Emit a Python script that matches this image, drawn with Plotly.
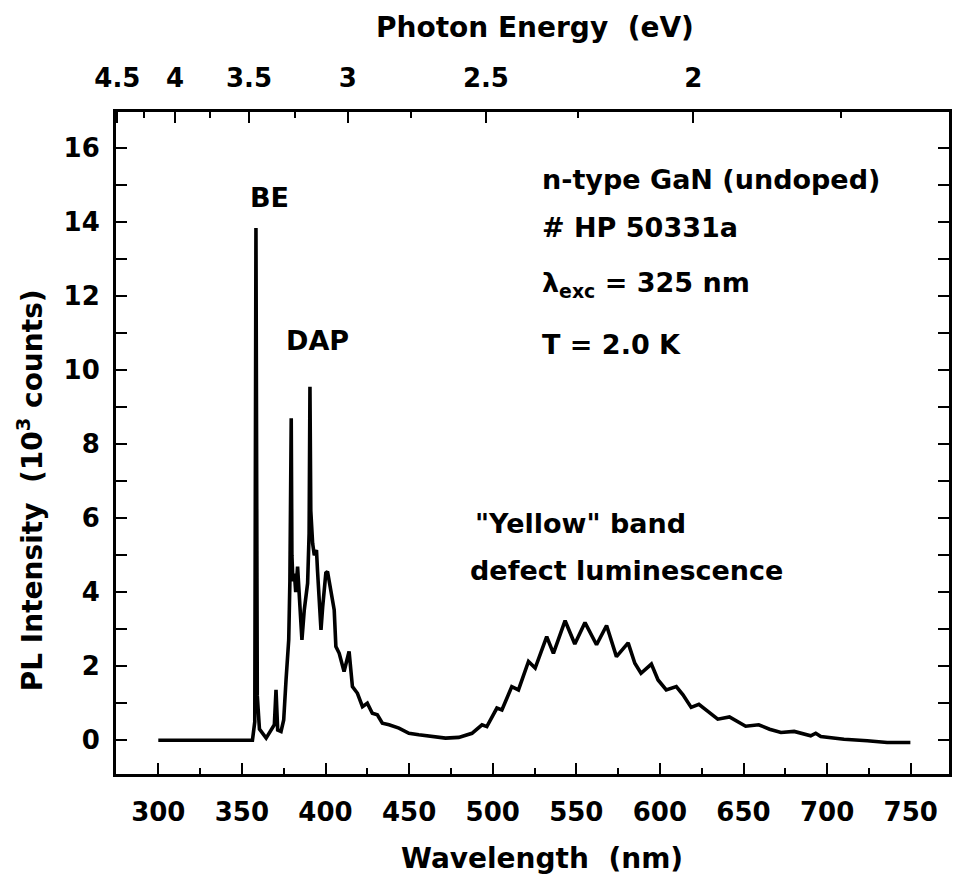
import plotly.graph_objects as go

# Photoluminescence spectrum of undoped n-type GaN at 2.0 K
wavelength_nm = [
    300.0, 356.3, 357.7, 358.4, 359.2, 360.5, 364.5, 367.5, 369.4, 370.4,
    371.4, 373.4, 375.0, 376.4, 378.0, 378.7, 379.1, 379.5, 379.9, 380.5,
    381.4, 382.2, 383.3, 384.3, 385.3, 385.9, 387.3, 389.3, 390.2, 390.7,
    391.2, 392.3, 393.3, 394.6, 395.2, 396.3, 397.3, 398.3, 399.2, 400.2,
    401.2, 402.2, 403.2, 405.2, 406.2, 408.2, 411.1, 412.6, 414.1, 416.1,
    419.1, 422.1, 425.0, 428.0, 431.0, 434.0, 438.0, 443.9, 449.9, 455.8,
    463.8, 471.8, 479.7, 487.6, 493.6, 496.5, 502.5, 505.5, 511.4, 515.4,
    521.4, 525.4, 532.3, 536.3, 543.3, 549.1, 555.2, 562.1, 568.1, 574.0,
    581.0, 585.0, 588.7, 594.9, 598.9, 603.8, 609.8, 613.8, 618.7, 623.3,
    628.7, 634.6, 641.6, 651.3, 659.1, 665.6, 672.4, 680.3, 690.2, 693.2,
    696.2, 710.1, 724.0, 735.9, 749.8,
]
intensity_kcounts = [
    0.0, 0.0, 0.5, 13.84, 1.2, 0.3, 0.06, 0.28, 0.42, 1.36,
    0.28, 0.24, 0.55, 1.63, 2.71, 4.3, 5.8, 8.70, 5.0, 4.3,
    4.5, 4.0, 4.69, 3.8, 2.9, 2.71, 3.52, 4.24, 5.6, 9.55,
    6.2, 5.32, 5.0, 5.14, 4.6, 3.5, 2.98, 3.6, 3.97, 4.52,
    4.56, 4.3, 3.97, 3.52, 2.53, 2.35, 1.86, 2.1, 2.40, 1.45,
    1.27, 0.91, 1.0, 0.73, 0.69, 0.46, 0.42, 0.33, 0.19, 0.15,
    0.10, 0.06, 0.08, 0.19, 0.42, 0.37, 0.87, 0.82, 1.45, 1.36,
    2.13, 1.95, 2.80, 2.35, 3.23, 2.60, 3.18, 2.58, 3.10, 2.26,
    2.63, 2.08, 1.81, 2.06, 1.63, 1.36, 1.45, 1.23, 0.89, 0.97,
    0.78, 0.57, 0.63, 0.38, 0.42, 0.30, 0.21, 0.24, 0.12, 0.19,
    0.10, 0.03, -0.01, -0.06, -0.06,
]

# Axis ticks
wl_major = [300, 350, 400, 450, 500, 550, 600, 650, 700, 750]
wl_minor = [325, 375, 425, 475, 525, 575, 625, 675, 725]
y_major = [0, 2, 4, 6, 8, 10, 12, 14, 16]
y_minor = [1, 3, 5, 7, 9, 11, 13, 15]
energy_major = [4.5, 4.0, 3.5, 3.0, 2.5, 2.0]
energy_major_text = ["4.5", "4", "3.5", "3", "2.5", "2"]
energy_minor = [4.25, 3.75, 3.25, 2.75, 2.25, 1.75]

HC_EV_NM = 1239.84  # photon energy (eV) <-> wavelength (nm)
X_RANGE = [274.7, 772.9]
Y_RANGE = [-0.91, 16.97]

TICK_FONT = dict(family="DejaVu Sans", size=26, color="black", weight="bold")
TEXT_FONT = dict(family="DejaVu Sans", size=27, color="black", weight="bold")
TITLE_FONT = dict(family="DejaVu Sans", size=28, color="black", weight="bold")

fig = go.Figure()
fig.add_trace(go.Scatter(
    x=wavelength_nm, y=intensity_kcounts, mode="lines",
    line=dict(color="black", width=3.6), hoverinfo="skip", showlegend=False,
))
# carrier trace so the photon-energy axis is drawn
fig.add_trace(go.Scatter(
    x=[X_RANGE[0]], y=[None], xaxis="x2", mode="lines",
    showlegend=False, hoverinfo="skip",
))

axis_common = dict(
    showline=True, linecolor="black", linewidth=3, ticks="inside",
    tickcolor="black", tickwidth=2, showgrid=False, zeroline=False,
    tickfont=TICK_FONT,
)

fig.update_layout(
    width=955, height=881,
    margin=dict(l=116, r=3, t=112, b=107),
    paper_bgcolor="white", plot_bgcolor="white",
    showlegend=False,
    xaxis=dict(
        range=X_RANGE, tickmode="array", tickvals=wl_major, ticklen=11,
        minor=dict(tickmode="array", tickvals=wl_minor, ticklen=6,
                   tickwidth=2, tickcolor="black", ticks="inside"),
        ticklabelstandoff=13, **axis_common,
    ),
    xaxis2=dict(
        overlaying="x", side="top", anchor="y", range=X_RANGE,
        tickmode="array",
        tickvals=[HC_EV_NM / e for e in energy_major],
        ticktext=energy_major_text, ticklen=11,
        minor=dict(tickmode="array",
                   tickvals=[HC_EV_NM / e for e in energy_minor],
                   ticklen=6, tickwidth=2, tickcolor="black", ticks="inside"),
        ticklabelstandoff=12, **axis_common,
    ),
    yaxis=dict(
        range=Y_RANGE, tickmode="array", tickvals=y_major, ticklen=11,
        minor=dict(tickmode="array", tickvals=y_minor, ticklen=6,
                   tickwidth=2, tickcolor="black", ticks="inside"),
        mirror="allticks", ticklabelstandoff=8, **axis_common,
    ),
)

# Axis titles
fig.add_annotation(text="Photon Energy\u00a0 (eV)", xref="paper", yref="paper",
                   x=0.5036, y=1.1269, showarrow=False, font=TITLE_FONT,
                   xanchor="center", yanchor="middle")
fig.add_annotation(text="Wavelength\u00a0 (nm)", xref="paper", yref="paper",
                   x=0.512, y=-0.1269, showarrow=False, font=TITLE_FONT,
                   xanchor="center", yanchor="middle")
fig.add_annotation(text="PL Intensity\u00a0 (10<sup>3</sup> counts)",
                   xref="paper", yref="paper", x=-0.1029, y=0.429,
                   textangle=-90, showarrow=False, font=TITLE_FONT,
                   xanchor="center", yanchor="middle")

# Peak and band labels
labels = [
    ("BE", 366.4, 14.65, "center"),
    ("DAP", 395.05, 10.79, "center"),
    ("n-type GaN (undoped)", 528.5, 15.16, "left"),
    ("# HP 50331a", 528.5, 13.85, "left"),
    ("\u03bb<sub>exc</sub> = 325 nm", 528.5, 12.3, "left"),
    ("T = 2.0 K", 528.5, 10.68, "left"),
    ("\"Yellow\" band", 488.0, 5.85, "left"),
    ("defect luminescence", 485.0, 4.58, "left"),
]
for text, x, y, anchor in labels:
    fig.add_annotation(text=text, x=x, y=y, xref="x", yref="y",
                       showarrow=False, font=TEXT_FONT,
                       xanchor=anchor, yanchor="middle")

fig.write_html("out.html")
